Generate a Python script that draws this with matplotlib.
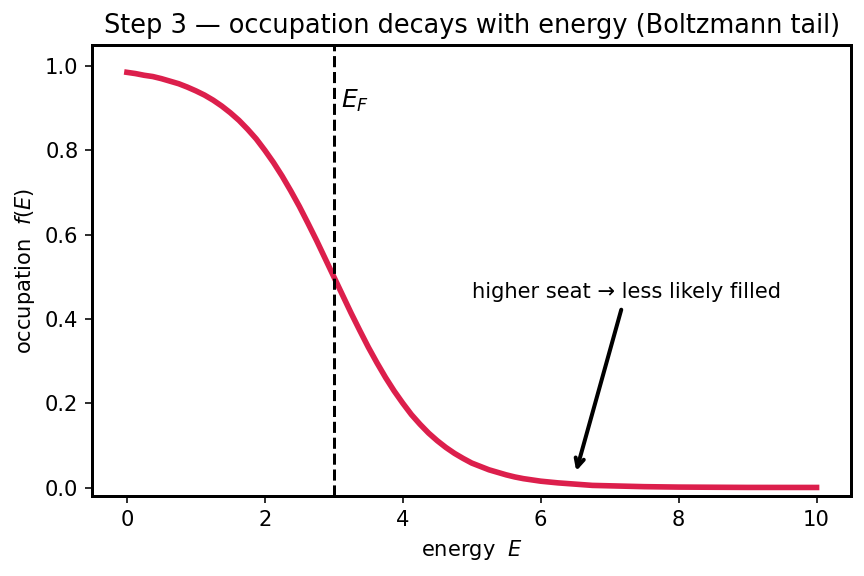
import matplotlib.pyplot as plt
import numpy as np

# energy grid and occupation (E_F = 3)
energy = [0, 0.125, 0.25, 0.375, 0.5, 0.625, 0.75, 0.875, 1, 1.125, 1.25, 1.375,
          1.5, 1.625, 1.75, 1.875, 2, 2.125, 2.25, 2.375, 2.5, 2.625, 2.75, 2.875,
          3, 3.125, 3.25, 3.375, 3.5, 3.625, 3.75, 3.875, 4, 4.125, 4.25, 4.375,
          4.5, 4.625, 4.75, 4.875, 5, 5.125, 5.25, 5.375, 5.5, 5.625, 5.75, 5.875,
          6, 6.25, 6.5, 6.75, 7, 7.5, 8, 9, 10]
occupation = [0.985, 0.982, 0.978, 0.975, 0.970, 0.964, 0.958, 0.950, 0.941, 0.931,
              0.919, 0.905, 0.889, 0.871, 0.850, 0.827, 0.800, 0.771, 0.739, 0.704,
              0.667, 0.627, 0.586, 0.543, 0.500, 0.457, 0.414, 0.373, 0.333, 0.296,
              0.261, 0.229, 0.200, 0.173, 0.150, 0.129, 0.111, 0.095, 0.081, 0.069,
              0.058, 0.050, 0.042, 0.036, 0.030, 0.025, 0.021, 0.018, 0.015, 0.011,
              0.008, 0.005, 0.004, 0.002, 0.001, 0.0002, 0.0001]
E_F = 3.0

plt.rcParams['font.size'] = 10.5

fig, ax = plt.subplots(figsize=(6.0, 4.0), dpi=144)
fig.subplots_adjust(left=0.107, right=0.985, top=0.922, bottom=0.139)

ax.plot(energy, occupation, color='#dc1f4c', lw=2.8)
ax.axvline(E_F, color='k', ls='--', lw=1.5)
ax.text(E_F + 0.1, 0.9, r'$E_F$', fontsize=12.5)

ax.annotate('higher seat → less likely filled', xy=(6.5, 0.03), xytext=(5.0, 0.45),
            fontsize=10.5, arrowprops=dict(arrowstyle='->', lw=2, color='k'))

ax.set_ylim(-0.02, 1.05)
ax.set_xlabel(r'energy  $E$')
ax.set_ylabel(r'occupation  $f(E)$')
ax.set_title('Step 3 — occupation decays with energy (Boltzmann tail)', fontsize=12.8)
for s in ax.spines.values():
    s.set_linewidth(1.5)

plt.savefig('out.png', dpi=144)
